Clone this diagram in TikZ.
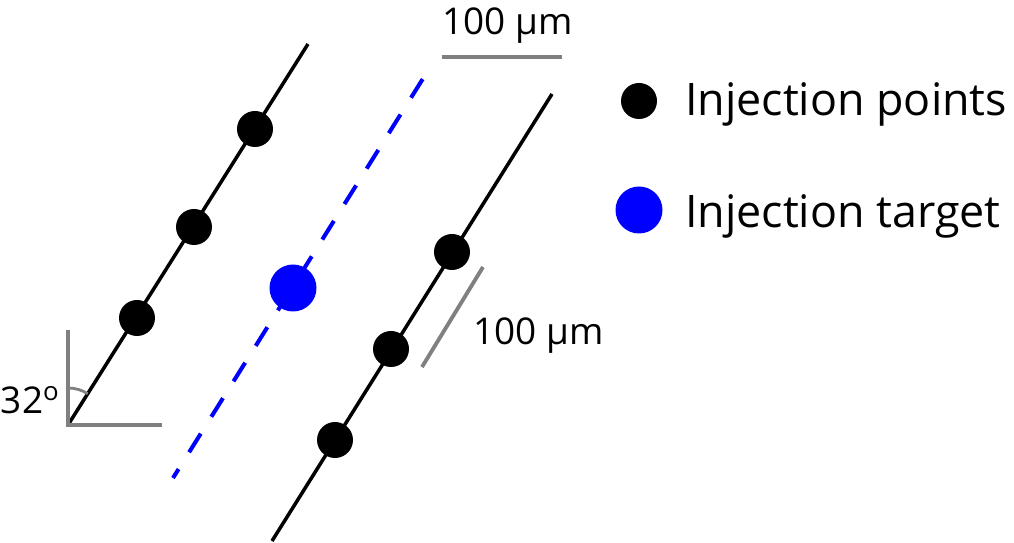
\documentclass[tikz,border=0pt]{standalone}
\usepackage{fontspec}
\setmainfont{Open Sans}
\usetikzlibrary{angles}
\definecolor{scalegray}{RGB}{128,128,128}

\begin{document}
\begin{tikzpicture}[scale=1,
    ipoint/.style={circle,fill=black,inner sep=0pt,minimum size=0.72cm},
    itarget/.style={circle,fill=blue,inner sep=0pt,minimum size=0.94cm},
    bar/.style={scalegray,line width=2.2pt},
    lbl/.style={inner sep=0pt,font=\fontsize{21}{25}\selectfont},
    leg/.style={inner sep=0pt,anchor=base west,font=\fontsize{25.5}{30}\selectfont}]
      \useasboundingbox (-1.36,-2.36) rectangle (18.92,8.5);
      % tracks
      \coordinate (v) at (0,0);
      \coordinate (ltop) at (4.8,7.62);
      \coordinate (tbot) at (2.1,-1.06);
      \coordinate (ttop) at (7.22,7.12);
      \coordinate (rbot) at (4.08,-2.32);
      \coordinate (rtop) at (9.68,6.62);
      \draw[line width=2pt] (v) -- (ltop);
      \draw[blue,line width=2.3pt,dash pattern=on 12.5pt off 11.3pt,dash phase=6.5pt] (tbot) -- (ttop);
      \draw[line width=2pt] (rbot) -- (rtop);
      % angle
      \coordinate (vtop) at (0,1.9);
      \coordinate (vright) at (1.88,0);
      \draw[bar] (vtop) -- (v) -- (vright);
      \pic[draw=scalegray,line width=1.6pt,angle radius=0.74cm] {angle=ltop--v--vtop};
      \node[lbl,anchor=base east] (ang) at (-0.16,0.22) {32\textsuperscript{o}};
      % scale bars
      \coordinate (h1) at (7.48,7.36);
      \coordinate (h2) at (9.88,7.36);
      \draw[bar] (h1) -- (h2);
      \node[lbl,anchor=base] (hl) at (8.79,7.8) {100 µm};
      \coordinate (s1) at (7.08,1.16);
      \coordinate (s2) at (8.3,3.16);
      \draw[bar] (s1) -- (s2);
      \node[lbl,anchor=base west] (sl) at (8.1,1.6) {100 µm};
      % points
      \node[ipoint] (p1) at (1.38,2.14) {};
      \node[ipoint] (p2) at (2.52,3.96) {};
      \node[ipoint] (p3) at (3.74,5.92) {};
      \node[itarget] (t) at (4.5,2.74) {};
      \node[ipoint] (q1) at (5.34,-0.3) {};
      \node[ipoint] (q2) at (6.46,1.52) {};
      \node[ipoint] (q3) at (7.68,3.46) {};
      % legend
      \node[ipoint] (kp) at (11.42,6.48) {};
      \node[leg] (kpl) at (12.34,6.18) {Injection points};
      \node[itarget] (kt) at (11.42,4.3) {};
      \node[leg] (ktl) at (12.34,3.94) {Injection target};
\end{tikzpicture}
\end{document}
